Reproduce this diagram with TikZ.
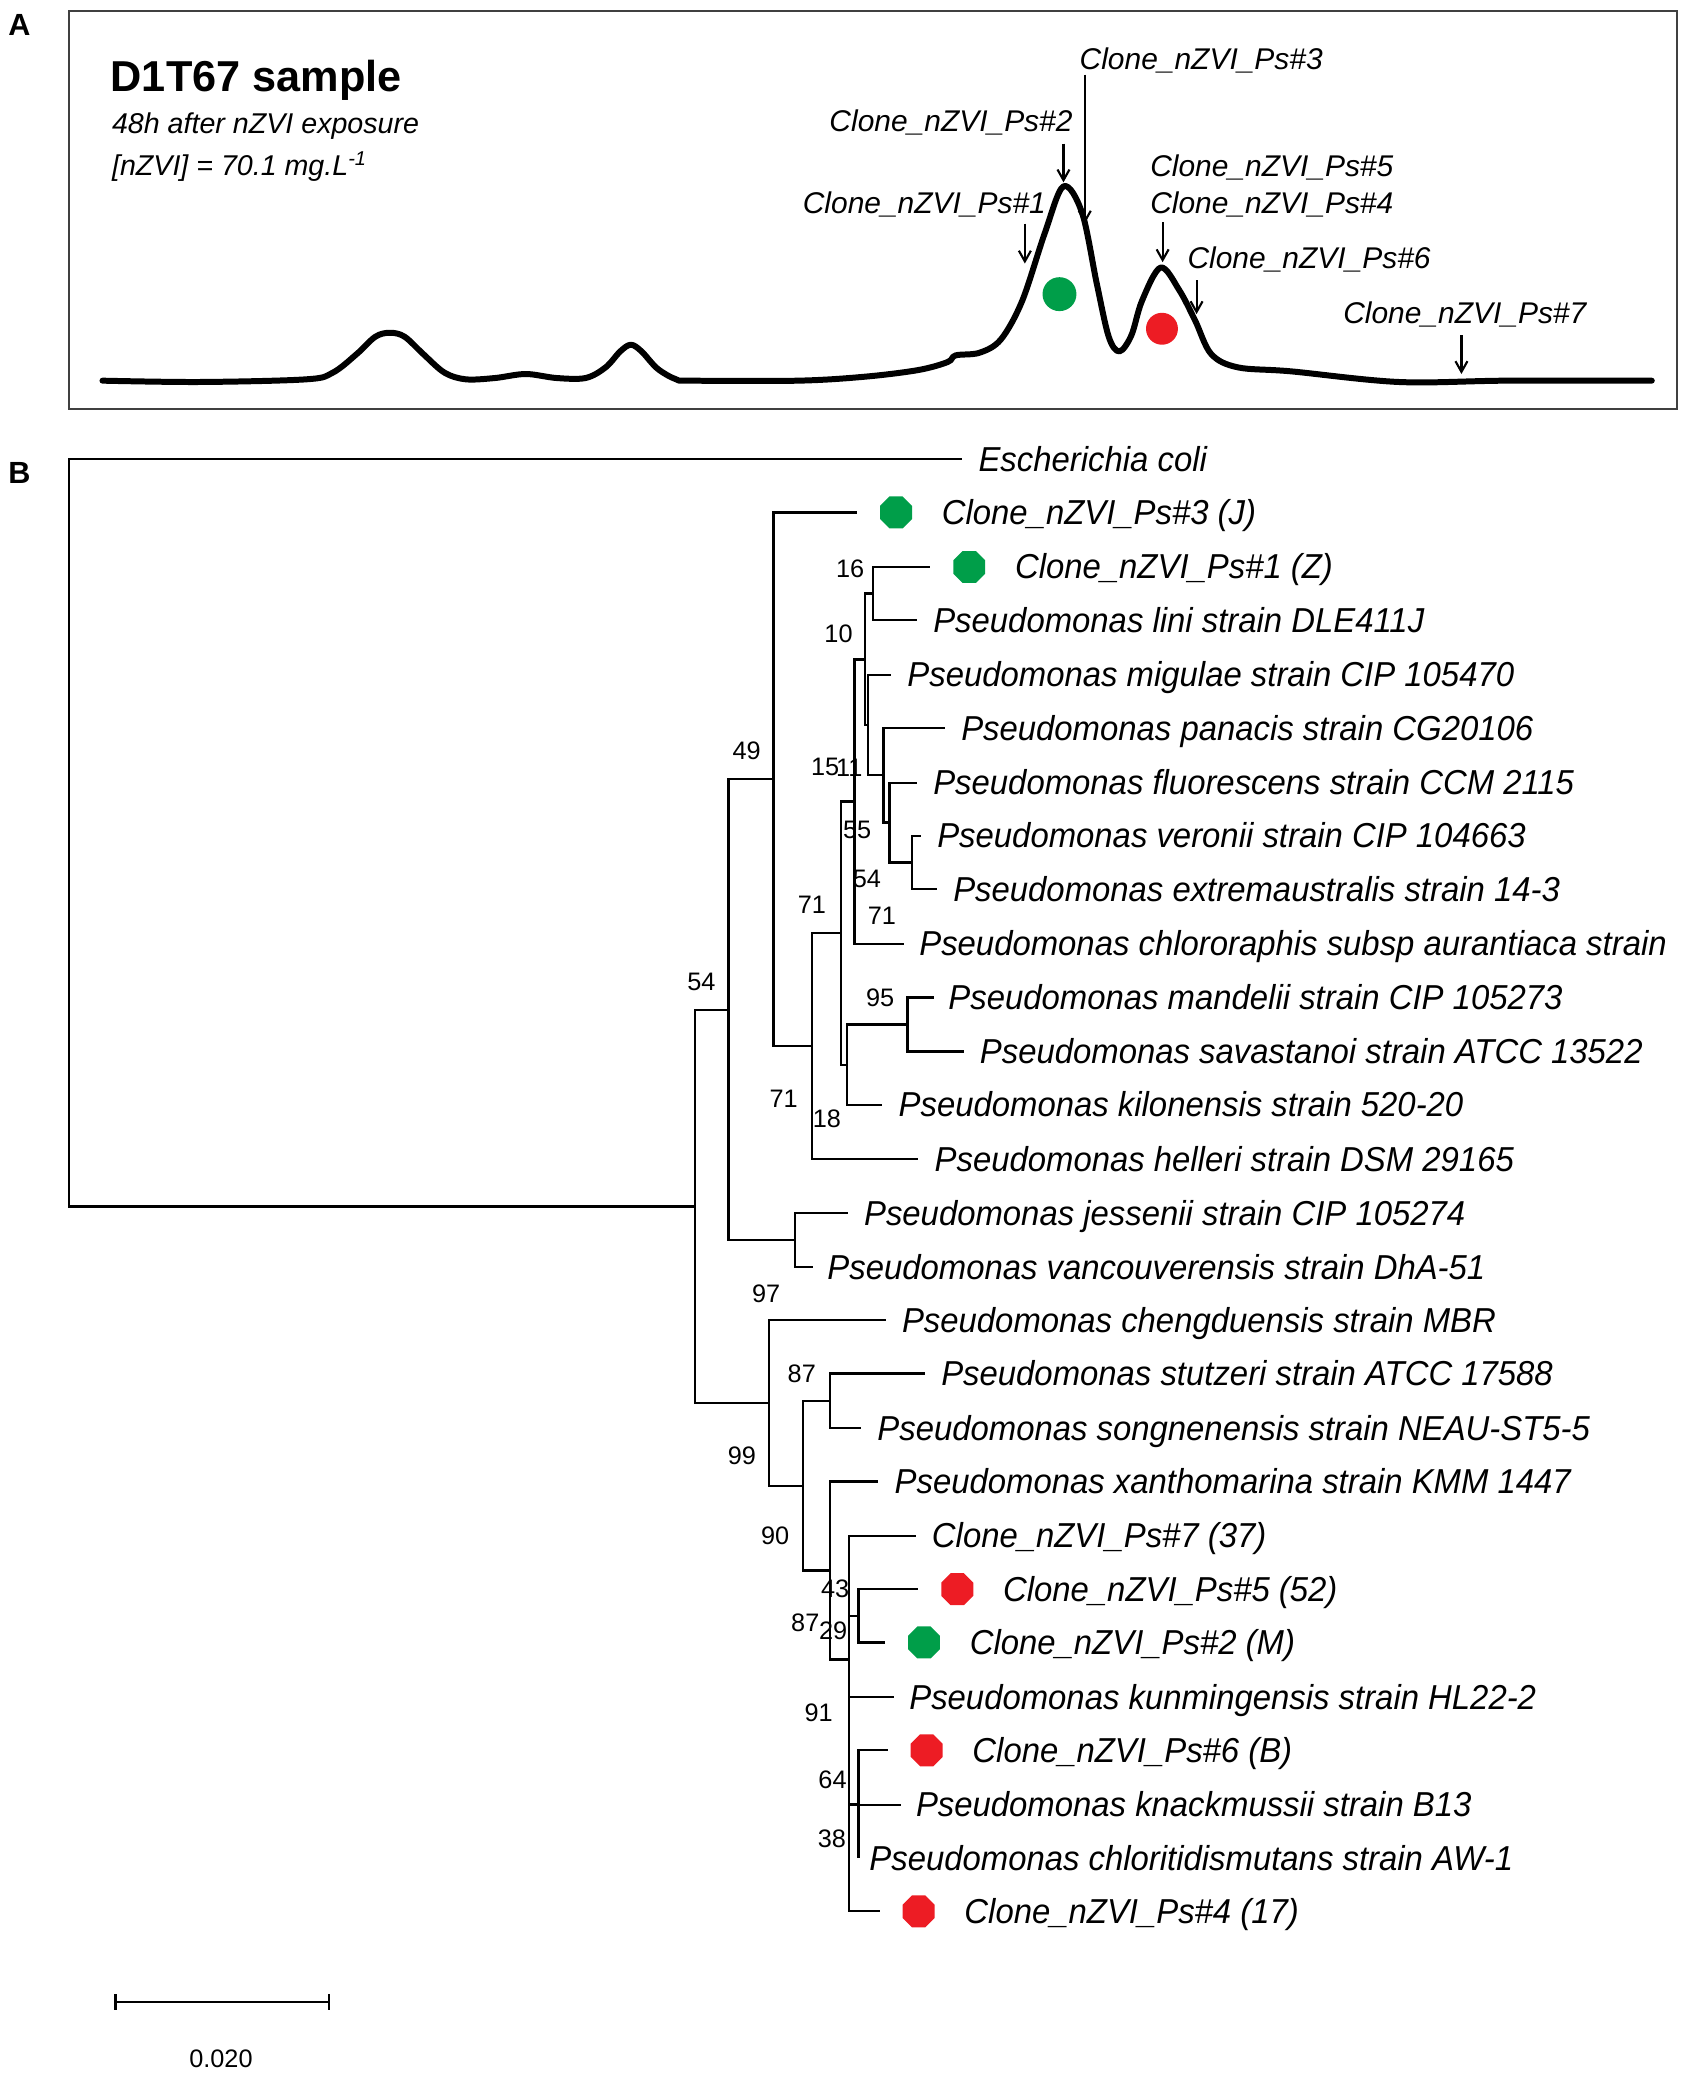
\documentclass[tikz,border=0pt]{standalone}
\usepackage{fontspec}
\setmainfont{Liberation Sans}
\newfontfamily\treefont{Liberation Sans}[FakeStretch=0.95]
\usetikzlibrary{positioning,shapes.geometric,arrows.meta}
\definecolor{dotgreen}{RGB}{0,158,73}
\definecolor{dotred}{RGB}{237,28,36}

\begin{document}
\begin{tikzpicture}[x=1pt,y=-1pt,
    branch/.style={line width=1.7pt},
    leaf/.style={anchor=base west,inner sep=0pt,yshift=-9pt,font=\treefont\fontsize{26}{30}\selectfont\itshape},
    boot/.style={inner sep=0pt,font=\fontsize{19}{21}\selectfont},
    gdot/.style={regular polygon,regular polygon sides=8,fill=dotgreen,inner sep=0pt,minimum size=26pt},
    rdot/.style={gdot,fill=dotred},
    peaklabel/.style={anchor=base west,inner sep=0pt,font=\fontsize{22.5}{26}\selectfont\itshape},
    pointer/.style={line width=1.6pt,-{Straight Barb[length=8pt,width=9pt]}},
    panel/.style={anchor=base west,inner sep=0pt,font=\fontsize{23}{26}\selectfont\bfseries}]
    \useasboundingbox (0,0) rectangle (1267,1568);

    % panel A: DGGE profile
    \node[panel] (pa) at (6,27) {A};
    \draw[line width=1.4pt,black!75] (52,8) rectangle (1260,307.5);
    \node[anchor=base west,inner sep=0pt,font=\fontsize{32.5}{36}\selectfont\bfseries] (title) at (83,69) {D1T67 sample};
    \node[peaklabel,font=\fontsize{21.5}{26}\selectfont\itshape] (time) at (84,100.3) {48h after nZVI exposure};
    \node[peaklabel,font=\fontsize{21.5}{26}\selectfont\itshape] (dose) at (84,131.6) {[nZVI] = 70.1 mg.L\textsuperscript{-1}};

    \draw[line width=4.5pt,line join=round,line cap=round] plot[smooth,tension=0.55] coordinates {
        (77,286) (150,287) (230,285) (250,280) (268,266) (282,253) (293,250) (304,253) (318,266)
        (334,280) (350,285) (372,284) (395,281) (418,284) (440,284) (455,276) (466,264) (474,259)
        (482,264) (494,277) (508,285) (520,286) (600,286) (650,283) (690,278) (712,272) (718,267)
        (736,265) (752,255) (768,226) (785,175) (799,140) (813,160) (824,213) (833,253) (841,264)
        (850,252) (858,226) (872,201) (886,218) (898,241) (910,266) (930,276) (970,279) (1051,287)
        (1132,286) (1241,286)};

    \node[circle,fill=dotgreen,inner sep=0pt,minimum size=25.5pt] (gpk) at (796,221) {};
    \node[circle,fill=dotred,inner sep=0pt,minimum size=24pt] (rpk) at (873,247) {};

    \node[peaklabel] (pk3) at (811,52) {Clone\_nZVI\_Ps\#3};
    \node[peaklabel] (pk2) at (623,99) {Clone\_nZVI\_Ps\#2};
    \node[peaklabel] (pk1) at (603,160.4) {Clone\_nZVI\_Ps\#1};
    \node[peaklabel] (pk5) at (864,132.3) {Clone\_nZVI\_Ps\#5};
    \node[peaklabel] (pk4) at (864,160.4) {Clone\_nZVI\_Ps\#4};
    \node[peaklabel] (pk6) at (892,201.8) {Clone\_nZVI\_Ps\#6};
    \node[peaklabel] (pk7) at (1009,243) {Clone\_nZVI\_Ps\#7};

    \coordinate (p3a) at (815,56);   \coordinate (p3b) at (815,168);
    \coordinate (p2a) at (799,108);  \coordinate (p2b) at (799,137);
    \coordinate (p1a) at (770,168);  \coordinate (p1b) at (770,198);
    \coordinate (p4a) at (873.5,167); \coordinate (p4b) at (873.5,197);
    \coordinate (p6a) at (899,210.5); \coordinate (p6b) at (899,236);
    \coordinate (p7a) at (1098,252); \coordinate (p7b) at (1098,281);
    \draw[pointer] (p3a) -- (p3b);
    \draw[pointer] (p2a) -- (p2b);
    \draw[pointer] (p1a) -- (p1b);
    \draw[pointer] (p4a) -- (p4b);
    \draw[pointer] (p6a) -- (p6b);
    \draw[pointer] (p7a) -- (p7b);

    % panel B: tree
    \node[panel] (pb) at (6,363) {B};

    \coordinate (root) at (52,625.7);
    \coordinate (n54) at (522.3,906.4);
    \coordinate (nA) at (547.3,758.6);
    \coordinate (nB) at (581.2,585.5);
    \coordinate (nC) at (610,786);
    \coordinate (nD) at (631.8,701);
    \coordinate (nF) at (642,602.2);
    \coordinate (nJ) at (650,495.4);
    \coordinate (n16) at (655.8,446);
    \coordinate (nK) at (652,544.8);
    \coordinate (nL) at (663.8,582.5);
    \coordinate (nM) at (668.3,618);
    \coordinate (nN) at (685.1,648);
    \coordinate (nG) at (636.3,799.9);
    \coordinate (nP) at (681.8,769.8);
    \coordinate (nQ) at (597.4,931.8);
    \coordinate (nR) at (577.8,1054.1);
    \coordinate (nS) at (603.5,1116.2);
    \coordinate (nT) at (623.5,1052.5);
    \coordinate (nU) at (623.5,1179.9);
    \coordinate (nV) at (638,1246.7);
    \coordinate (nW) at (645,1214);
    \coordinate (nY) at (645,1355.5);

    \coordinate (e1) at (723,345);
    \coordinate (e2) at (644,385);
    \coordinate (e3) at (699,426);
    \coordinate (e4) at (689,466);
    \coordinate (e5) at (669.6,507);
    \coordinate (e6) at (710,547);
    \coordinate (e7) at (689,588);
    \coordinate (e8) at (692,628);
    \coordinate (e9) at (704,668);
    \coordinate (e10) at (679.5,709);
    \coordinate (e11) at (701.4,749.5);
    \coordinate (e12) at (724,790);
    \coordinate (e13) at (663,830);
    \coordinate (e14) at (690,871);
    \coordinate (e15) at (637,911.5);
    \coordinate (e16) at (610.5,952);
    \coordinate (e17) at (665.5,992);
    \coordinate (e18) at (695,1032);
    \coordinate (e19) at (647,1073);
    \coordinate (e20) at (660,1113);
    \coordinate (e21) at (688,1154);
    \coordinate (e22) at (690,1194);
    \coordinate (e23) at (665,1234);
    \coordinate (e24) at (672,1275);
    \coordinate (e25) at (667,1315);
    \coordinate (e26) at (677,1356);
    \coordinate (e27) at (645,1396);
    \coordinate (e28) at (661,1436);

    \draw[branch] (root) |- (e1);  \draw[branch] (root) |- (n54);
    \draw[branch] (n54) |- (nA);   \draw[branch] (n54) |- (nR);
    \draw[branch] (nA) |- (nB);    \draw[branch] (nA) |- (nQ);
    \draw[branch] (nB) |- (e2);    \draw[branch] (nB) |- (nC);
    \draw[branch] (nC) |- (nD);    \draw[branch] (nC) |- (e14);
    \draw[branch] (nD) |- (nF);    \draw[branch] (nD) |- (nG);
    \draw[branch] (nF) |- (nJ);    \draw[branch] (nF) |- (e10);
    \draw[branch] (nJ) |- (n16);   \draw[branch] (nJ) |- (nK);
    \draw[branch] (n16) |- (e3);   \draw[branch] (n16) |- (e4);
    \draw[branch] (nK) |- (e5);    \draw[branch] (nK) |- (nL);
    \draw[branch] (nL) |- (e6);    \draw[branch] (nL) |- (nM);
    \draw[branch] (nM) |- (e7);    \draw[branch] (nM) |- (nN);
    \draw[branch] (nN) |- (e8);    \draw[branch] (nN) |- (e9);
    \draw[branch] (nG) |- (nP);    \draw[branch] (nG) |- (e13);
    \draw[branch] (nP) |- (e11);   \draw[branch] (nP) |- (e12);
    \draw[branch] (nQ) |- (e15);   \draw[branch] (nQ) |- (e16);
    \draw[branch] (nR) |- (e17);   \draw[branch] (nR) |- (nS);
    \draw[branch] (nS) |- (nT);    \draw[branch] (nS) |- (nU);
    \draw[branch] (nT) |- (e18);   \draw[branch] (nT) |- (e19);
    \draw[branch] (nU) |- (e20);   \draw[branch] (nU) |- (nV);
    \draw[branch] (nV) |- (e21);   \draw[branch] (nV) |- (nW);
    \draw[branch] (nV) |- (e24);   \draw[branch] (nV) |- (nY);
    \draw[branch] (nV) |- (e26);   \draw[branch] (nV) |- (e28);
    \draw[branch] (nW) |- (e22);   \draw[branch] (nW) |- (e23);
    \draw[branch] (nY) |- (e25);   \draw[branch] (nY) |- (e27);

    \node[right=12pt of e1,leaf] (t1) {Escherichia coli};
    \node[gdot,right=17pt of e2] (d2) {};
    \node[right=22pt of d2,leaf] (t2) {Clone\_nZVI\_Ps\#3 (J)};
    \node[gdot,right=17pt of e3] (d3) {};
    \node[right=22pt of d3,leaf] (t3) {Clone\_nZVI\_Ps\#1 (Z)};
    \node[right=12pt of e4,leaf] (t4) {Pseudomonas lini strain DLE411J};
    \node[right=12pt of e5,leaf] (t5) {Pseudomonas migulae strain CIP 105470};
    \node[right=12pt of e6,leaf] (t6) {Pseudomonas panacis strain CG20106};
    \node[right=12pt of e7,leaf] (t7) {Pseudomonas fluorescens strain CCM 2115};
    \node[right=12pt of e8,leaf] (t8) {Pseudomonas veronii strain CIP 104663};
    \node[right=12pt of e9,leaf] (t9) {Pseudomonas extremaustralis strain 14-3};
    \node[right=11pt of e10,leaf] (t10) {Pseudomonas chlororaphis subsp aurantiaca strain};
    \node[right=11pt of e11,leaf] (t11) {Pseudomonas mandelii strain CIP 105273};
    \node[right=12pt of e12,leaf] (t12) {Pseudomonas savastanoi strain ATCC 13522};
    \node[right=12pt of e13,leaf] (t13) {Pseudomonas kilonensis strain 520-20};
    \node[right=12pt of e14,leaf] (t14) {Pseudomonas helleri strain DSM 29165};
    \node[right=12pt of e15,leaf] (t15) {Pseudomonas jessenii strain CIP 105274};
    \node[right=11pt of e16,leaf] (t16) {Pseudomonas vancouverensis strain DhA-51};
    \node[right=12pt of e17,leaf] (t17) {Pseudomonas chengduensis strain MBR};
    \node[right=12pt of e18,leaf] (t18) {Pseudomonas stutzeri strain ATCC 17588};
    \node[right=12pt of e19,leaf] (t19) {Pseudomonas songnenensis strain NEAU-ST5-5};
    \node[right=12pt of e20,leaf] (t20) {Pseudomonas xanthomarina strain KMM 1447};
    \node[right=12pt of e21,leaf] (t21) {Clone\_nZVI\_Ps\#7 (37)};
    \node[rdot,right=17pt of e22] (d22) {};
    \node[right=22pt of d22,leaf] (t22) {Clone\_nZVI\_Ps\#5 (52)};
    \node[gdot,right=17pt of e23] (d23) {};
    \node[right=22pt of d23,leaf] (t23) {Clone\_nZVI\_Ps\#2 (M)};
    \node[right=11pt of e24,leaf] (t24) {Pseudomonas kunmingensis strain HL22-2};
    \node[rdot,right=17pt of e25] (d25) {};
    \node[right=22pt of d25,leaf] (t25) {Clone\_nZVI\_Ps\#6 (B)};
    \node[right=11pt of e26,leaf] (t26) {Pseudomonas knackmussii strain B13};
    \node[right=8pt of e27,leaf] (t27) {Pseudomonas chloritidismutans strain AW-1};
    \node[rdot,right=17pt of e28] (d28) {};
    \node[right=22pt of d28,leaf] (t28) {Clone\_nZVI\_Ps\#4 (17)};

    \node[boot] (b49) at (561,564) {49};
    \node[boot] (b54) at (527,738) {54};
    \node[boot] (b16) at (638.8,427) {16};
    \node[boot] (b10) at (630,476) {10};
    \node[boot] (b15) at (620,576) {15};
    \node[boot] (b11) at (638,577) {11};
    \node[boot] (b55) at (644,623.5) {55};
    \node[boot] (b54b) at (651.3,660) {54};
    \node[boot] (b71a) at (662.6,688) {71};
    \node[boot] (b71b) at (610,680) {71};
    \node[boot] (b95) at (661.3,750) {95};
    \node[boot] (b71c) at (588.7,825.4) {71};
    \node[boot] (b18) at (621.2,840.4) {18};
    \node[boot] (b97) at (575.6,972) {97};
    \node[boot] (b87) at (602.4,1032) {87};
    \node[boot] (b99) at (557.4,1093.4) {99};
    \node[boot] (b90) at (582.4,1154) {90};
    \node[boot] (b43) at (627.5,1194) {43};
    \node[boot] (b87b) at (605,1219) {87};
    \node[boot] (b29) at (626,1225) {29};
    \node[boot] (b91) at (615,1287) {91};
    \node[boot] (b64) at (625.5,1337) {64};
    \node[boot] (b38) at (625,1381.5) {38};

    \coordinate (sb1) at (86,1504);
    \coordinate (sb2) at (248,1504);
    \draw[line width=1.6pt,{Bar[width=12pt]}-{Bar[width=12pt]}] (sb1) -- (sb2);
    \node[boot] (sbl) at (166,1547) {0.020};
\end{tikzpicture}
\end{document}
